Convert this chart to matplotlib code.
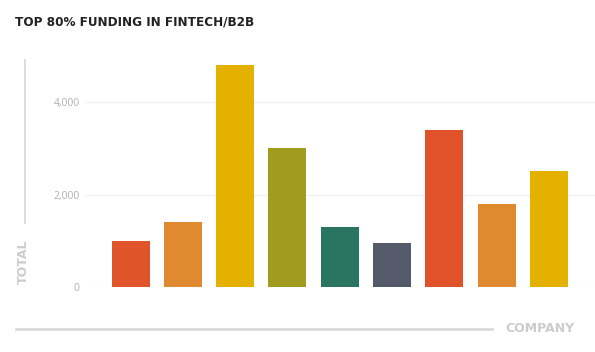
import matplotlib
matplotlib.use("Agg")
import matplotlib.pyplot as plt
from matplotlib.lines import Line2D

companies = ["Company 1", "Company 2", "Company 3", "Company 4", "Company 5",
             "Company 6", "Company 7", "Company 8", "Company 9"]
totals = [1000, 1400, 4800, 3000, 1300, 950, 3390, 1800, 2500]
colors = ["#e0542a", "#df8a2e", "#e4b100", "#a29c1e", "#2a7462",
          "#545a6a", "#e0532a", "#df8a2e", "#e4b100"]
yticks = [0, 2000, 4000]
ytick_labels = ["0", "2,000", "4,000"]

W, H = 595, 352
fig = plt.figure(figsize=(W / 100, H / 100), dpi=100)
fig.patch.set_facecolor("white")

# axes in pixel coordinates
ax_left, ax_right = 85, 595
ax_bottom, ax_top = 287.3, 55.3
ax = fig.add_axes([ax_left / W, 1 - ax_bottom / H, (ax_right - ax_left) / W,
                   (ax_bottom - ax_top) / H])

pitch = 52.3
x0 = 130.5
xmin = (ax_left - x0) / pitch
xmax = (ax_right - x0) / pitch

ax.bar(range(len(totals)), totals, width=38 / pitch, color=colors, zorder=3)
ax.set_xlim(xmin, xmax)
ax.set_ylim(0, 5000)
ax.set_yticks(yticks)
ax.set_yticklabels(ytick_labels, fontfamily="Open Sans", fontsize=7.5, color="#b0b0b0")
ax.set_xticks([])
ax.tick_params(axis="y", length=0, pad=4)
for s in ax.spines.values():
    s.set_visible(False)
ax.yaxis.grid(True, color="#f1f1f1", linewidth=1, zorder=0)
ax.set_axisbelow(True)

cond = ["Liberation Sans Narrow", "DejaVu Sans"]

fig.text(15 / W, 1 - 22 / H, "TOP 80% FUNDING IN FINTECH/B2B", family=cond,
         fontweight="bold", fontsize=9.6, color="#222222", ha="left", va="center",
         fontstretch="condensed")

# decorative axis lines
fig.add_artist(Line2D([25 / W, 25 / W], [1 - 60 / H, 1 - 223 / H],
                      color="#d6d6d6", linewidth=1.2, transform=fig.transFigure))
fig.add_artist(Line2D([16 / W, 492 / W], [1 - 329 / H, 1 - 329 / H],
                      color="#d6d6d6", linewidth=1.8, transform=fig.transFigure))

fig.text(23 / W, 1 - 262 / H, "TOTAL", family=cond, fontweight="bold",
         fontsize=9, color="#cccccc", rotation=90, ha="center", va="center")
fig.text(540 / W, 1 - 329 / H, "COMPANY", family=cond, fontweight="bold",
         fontsize=9, color="#cccccc", ha="center", va="center")

fig.savefig("out.png", dpi=100, facecolor="white")
